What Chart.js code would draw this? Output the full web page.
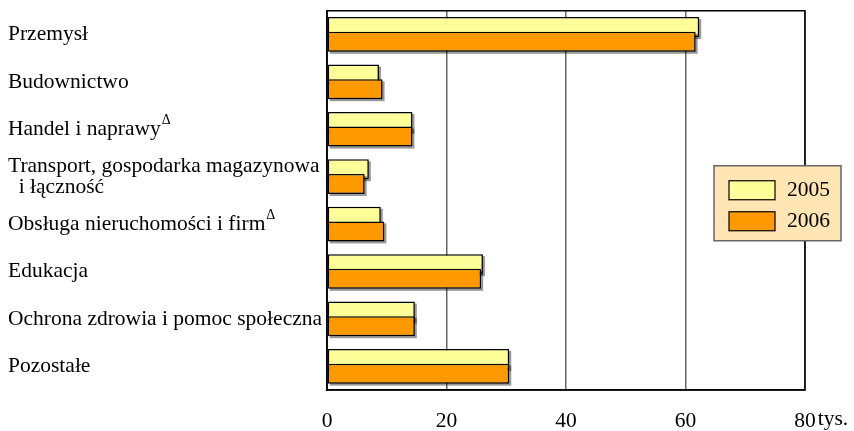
<!DOCTYPE html>
<html lang="pl">
<head>
  <meta charset="UTF-8">
  <title>Pracujący według sekcji</title>
  <script src="https://cdn.jsdelivr.net/npm/chart.js"></script>
  <style>
    html, body { margin: 0; padding: 0; background: #fff; }
    #wrap { width: 854px; height: 431px; }
  </style>
</head>
<body>
  <div id="wrap"><canvas id="chart" width="854" height="431"></canvas></div>

  <script>
// categories (top to bottom), a multi-line label is an array
const categories = [
  'Przemysł',
  'Budownictwo',
  'Handel i naprawy',
  ['Transport, gospodarka magazynowa', '  i łączność'],
  'Obsługa nieruchomości i firm',
  'Edukacja',
  'Ochrona zdrowia i pomoc społeczna',
  'Pozostałe'
];
// superscript marks after the label text
const marks = ['', '', 'Δ', '', 'Δ', '', '', ''];

// values in thousands
const values2005 = [62.3, 8.7, 14.3, 7.0, 9.0, 26.1, 14.7, 30.5];
const values2006 = [61.7, 9.3, 14.3, 6.3, 9.6, 25.8, 14.7, 30.5];

const seriesNames = ['2005', '2006'];
const xTicks = [0, 20, 40, 60, 80];
const unitLabel = 'tys.';

const serif = '"Liberation Serif", "Times New Roman", serif';
const FONT_SIZE = 21.5;

// draws bars in dataset order (2006 over 2005) with a small grey shadow
const barDrawing = {
  id: 'barDrawing',
  beforeDatasetsDraw(chart) {
    const ctx = chart.ctx;
    chart.data.datasets.forEach((ds, i) => {
      const meta = chart.getDatasetMeta(i);
      ctx.save();
      ctx.fillStyle = 'rgba(0,0,0,0.4)';
      meta.data.forEach(bar => {
        const p = bar.getProps(['x', 'y', 'base', 'height'], true);
        ctx.fillRect(p.base + 2, p.y - p.height / 2 + 2, p.x - p.base, p.height);
      });
      ctx.restore();
      meta.controller.draw();
    });
    return false;
  }
};

// frame, unit label, superscripts and legend box
const extras = {
  id: 'extras',
  afterDraw(chart) {
    const ctx = chart.ctx;
    const a = chart.chartArea;
    const xs = chart.scales.x;
    const ys = chart.scales.y;
    ctx.save();

    ctx.strokeStyle = '#000';
    ctx.lineWidth = 1.5;
    ctx.strokeRect(a.left, a.top, a.right - a.left, a.bottom - a.top);

    ctx.fillStyle = '#000';
    ctx.font = FONT_SIZE + 'px ' + serif;
    ctx.textBaseline = 'middle';
    ctx.textAlign = 'left';
    const x80 = xs.getPixelForValue(xTicks[xTicks.length - 1]);
    ctx.fillText(unitLabel, x80 + ctx.measureText('80').width / 2 + 2, a.bottom + 29);

    // superscript marks
    categories.forEach((c, i) => {
      if (!marks[i]) return;
      const w = ctx.measureText(Array.isArray(c) ? c[0] : c).width;
      ctx.font = '14px ' + serif;
      ctx.fillText(marks[i], ys.left + w + 1, ys.getPixelForValue(i) - 9);
      ctx.font = FONT_SIZE + 'px ' + serif;
    });

    // legend
    const bx = a.right - 91, by = a.top + 155, bw = 127, bh = 75;
    ctx.fillStyle = '#FFE5B4';
    ctx.fillRect(bx, by, bw, bh);
    ctx.strokeStyle = '#666';
    ctx.lineWidth = 1.5;
    ctx.strokeRect(bx, by, bw, bh);
    chart.data.datasets.forEach((ds, i) => {
      const sy = by + 15 + i * 31;
      ctx.fillStyle = ds.backgroundColor;
      ctx.fillRect(bx + 15, sy, 46, 19);
      ctx.strokeStyle = '#000';
      ctx.lineWidth = 1.2;
      ctx.strokeRect(bx + 15, sy, 46, 19);
      ctx.fillStyle = '#000';
      ctx.fillText(ds.label, bx + 73, sy + 10);
    });
    ctx.restore();
  }
};

new Chart(document.getElementById('chart'), {
  type: 'bar',
  data: {
    labels: categories,
    datasets: [
      {
        label: seriesNames[0],
        data: values2005,
        backgroundColor: '#FFFF99',
        borderColor: '#000',
        borderWidth: 1.5,
        borderSkipped: false
      },
      {
        label: seriesNames[1],
        data: values2006,
        backgroundColor: '#FF9900',
        borderColor: '#000',
        borderWidth: 1.5,
        borderSkipped: false
      }
    ]
  },
  plugins: [barDrawing, extras],
  options: {
    indexAxis: 'y',
    responsive: false,
    animation: false,
    categoryPercentage: 0.62,
    barPercentage: 1.36,
    layout: { padding: { left: 8, right: 49, top: 10, bottom: 0 } },
    plugins: {
      legend: { display: false },
      tooltip: { enabled: false }
    },
    scales: {
      x: {
        min: 0,
        max: 80,
        afterBuildTicks: scale => { scale.ticks = xTicks.map(v => ({ value: v })); },
        afterFit: scale => { scale.height = 41; },
        grid: { color: '#666', lineWidth: 1.5, drawTicks: false },
        border: { color: '#000', width: 1.5 },
        ticks: {
          padding: 18,
          color: '#000',
          maxRotation: 0,
          font: { family: serif, size: FONT_SIZE }
        }
      },
      y: {
        afterFit: scale => { scale.width = 319; },
        grid: { display: false, drawTicks: false },
        border: { color: '#000', width: 1.5 },
        ticks: {
          crossAlign: 'far',
          padding: 0,
          color: '#000',
          font: { family: serif, size: FONT_SIZE, lineHeight: 1.0 }
        }
      }
    }
  }
});
  </script>
</body>
</html>
